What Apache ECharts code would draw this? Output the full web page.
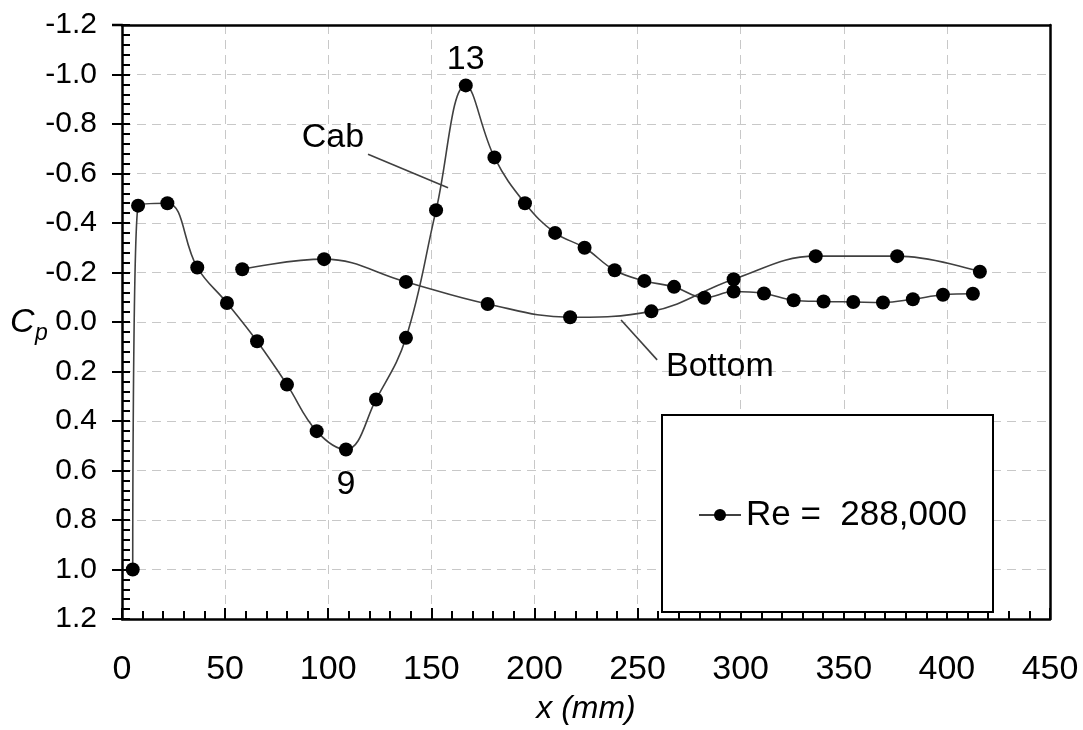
<!DOCTYPE html>
<html>
<head>
<meta charset="utf-8">
<title>Cp distribution</title>
<script src="https://cdn.jsdelivr.net/npm/echarts@6/dist/echarts.min.js"></script>
<style>
  html, body { margin: 0; padding: 0; background: #fff; }
  #main { width: 1083px; height: 730px; }
</style>
</head>
<body>
<div id="main"></div>
<script>
// pressure taps along the cab (x in mm, Cp)
const cabX = [5.2, 7.8, 22.0, 36.5, 50.9, 65.5, 80.0, 94.4, 108.6, 123.2, 137.7, 152.3, 166.7,
  180.6, 195.4, 210.0, 224.3, 238.9, 253.3, 267.7, 282.4, 296.6, 311.3, 325.7, 340.2, 354.6,
  369.0, 383.5, 398.1, 412.6]
const cabCp = [1.0, -0.47, -0.48, -0.22, -0.077, 0.078, 0.253, 0.441, 0.515, 0.313, 0.064, -0.452, -0.956,
  -0.665, -0.48, -0.36, -0.30, -0.209, -0.166, -0.142, -0.098, -0.123, -0.115, -0.088, -0.083, -0.081,
  -0.079, -0.092, -0.110, -0.114]

// pressure taps along the bottom
const bottomX = [58.3, 98.0, 137.7, 177.3, 217.3, 256.7, 296.6, 336.4, 375.9, 416.0]
const bottomCp = [-0.213, -0.254, -0.162, -0.073, -0.019, -0.043, -0.173, -0.266, -0.266, -0.203]

// tap numbers written next to two of the cab points
const cabTapLabels = [
  { index: 8, text: '9', position: 'bottom', distance: 11 },
  { index: 12, text: '13', position: 'top', distance: 2 }
]

const seriesName = 'Re =  288,000'
const xRange = [0, 450, 50]
const yRange = [-1.2, 1.2, 0.2]

const font = 'Liberation Sans, Arial, sans-serif'
const lineColor = '#404040'

function buildData(xs, ys, labels) {
  return xs.map((x, i) => {
    const item = { value: [x, ys[i]] }
    const lab = (labels || []).find(l => l.index === i)
    if (lab) {
      item.label = {
        show: true,
        formatter: lab.text,
        position: lab.position,
        distance: lab.distance,
        fontSize: 34,
        fontFamily: font,
        color: '#000'
      }
    }
    return item
  })
}

const chart = echarts.init(document.getElementById('main'))

const option = {
  animation: false,
  backgroundColor: '#fff',
  grid: { left: 122, right: 33, top: 25, bottom: 107, containLabel: false },
  legend: {
    data: [seriesName],
    left: 693,
    top: 492,
    itemWidth: 42,
    itemHeight: 15,
    z: 10,
    textStyle: { fontSize: 35, fontFamily: font, color: '#000', lineHeight: 36 }
  },
  graphic: [
    {
      type: 'rect',
      z: 5,
      shape: { x: 662, y: 415, width: 331, height: 197 },
      style: { fill: '#fff', stroke: '#000', lineWidth: 2 }
    },
    {
      type: 'text',
      left: 10,
      top: 306,
      style: { text: 'C', fontSize: 34, fontStyle: 'italic', fontFamily: font, fill: '#000' }
    },
    {
      type: 'text',
      left: 35,
      top: 322,
      style: { text: 'p', fontSize: 23, fontStyle: 'italic', fontFamily: font, fill: '#000' }
    },
    {
      // plot frame corner tick at the top-left
      type: 'line',
      shape: { x1: 112, y1: 25, x2: 122, y2: 25 },
      style: { stroke: '#000', lineWidth: 2.5 }
    }
  ],
  xAxis: [
    {
      type: 'value',
      min: xRange[0],
      max: xRange[1],
      interval: xRange[2],
      name: 'x (mm)',
      nameLocation: 'middle',
      nameGap: 74,
      nameTextStyle: { fontSize: 32, fontStyle: 'italic', fontFamily: font, color: '#000' },
      axisLine: { show: true, onZero: false, lineStyle: { color: '#000', width: 2.5 } },
      axisTick: { show: true, inside: true, length: 11, lineStyle: { color: '#000', width: 2 } },
      minorTick: { show: true, splitNumber: 5, length: 8, lineStyle: { color: '#000', width: 2 } },
      axisLabel: { margin: 34, fontSize: 34, fontFamily: font, color: '#000' },
      splitLine: { show: true, lineStyle: { color: '#c8c8c8', type: [9, 6], width: 1 } }
    },
    {
      // top frame line
      type: 'value',
      position: 'top',
      min: xRange[0],
      max: xRange[1],
      axisLine: { show: true, onZero: false, lineStyle: { color: '#000', width: 2.5 } },
      axisTick: { show: false },
      axisLabel: { show: false },
      splitLine: { show: false }
    }
  ],
  yAxis: [
    {
      type: 'value',
      inverse: true,
      min: yRange[0],
      max: yRange[1],
      interval: yRange[2],
      axisLine: { show: true, onZero: false, lineStyle: { color: '#000', width: 2.5 } },
      axisTick: { show: true, inside: true, length: 8, lineStyle: { color: '#000', width: 2 } },
      minorTick: { show: true, splitNumber: 5, length: 8, lineStyle: { color: '#000', width: 2 } },
      axisLabel: {
        margin: 25,
        fontSize: 30,
        fontFamily: font,
        color: '#000',
        formatter: v => (Math.abs(v) < 1e-9 ? 0 : v).toFixed(1)
      },
      splitLine: { show: true, lineStyle: { color: '#c8c8c8', type: [9, 6], width: 1 } }
    },
    {
      // major ticks sticking out to the left
      type: 'value',
      inverse: true,
      position: 'left',
      min: yRange[0],
      max: yRange[1],
      interval: yRange[2],
      axisLine: { show: false, onZero: false },
      axisTick: { show: true, inside: false, length: 10, lineStyle: { color: '#000', width: 2 } },
      axisLabel: { show: false },
      splitLine: { show: false }
    },
    {
      // right frame line
      type: 'value',
      position: 'right',
      min: yRange[0],
      max: yRange[1],
      axisLine: { show: true, onZero: false, lineStyle: { color: '#000', width: 2.5 } },
      axisTick: { show: false },
      axisLabel: { show: false },
      splitLine: { show: false }
    }
  ],
  series: [
    {
      name: seriesName,
      type: 'line',
      smooth: 0.4,
      data: buildData(cabX, cabCp, cabTapLabels),
      symbol: 'circle',
      symbolSize: 14,
      itemStyle: { color: '#000' },
      lineStyle: { color: lineColor, width: 1.6 },
      z: 3,
      markLine: {
        silent: true,
        symbol: ['none', 'none'],
        label: { show: false },
        lineStyle: { color: lineColor, width: 1.6, type: 'solid' },
        data: [
          [{ coord: [119.3, -0.678] }, { coord: [158.1, -0.542] }],
          [{ coord: [242.0, -0.008] }, { coord: [259.5, 0.153] }]
        ]
      },
      markPoint: {
        silent: true,
        symbol: 'circle',
        symbolSize: 1,
        itemStyle: { color: 'rgba(0,0,0,0)' },
        label: { show: true, position: 'inside', fontSize: 34, fontFamily: font, color: '#000' },
        data: [
          { coord: [102.3, -0.746], label: { formatter: 'Cab' } },
          { coord: [263.8, 0.181], label: { formatter: 'Bottom', align: 'left' } }
        ]
      }
    },
    {
      name: seriesName,
      type: 'line',
      smooth: 0.4,
      data: buildData(bottomX, bottomCp),
      symbol: 'circle',
      symbolSize: 14,
      itemStyle: { color: '#000' },
      lineStyle: { color: lineColor, width: 1.6 },
      z: 3
    }
  ]
}

option && chart.setOption(option)
</script>
</body>
</html>
